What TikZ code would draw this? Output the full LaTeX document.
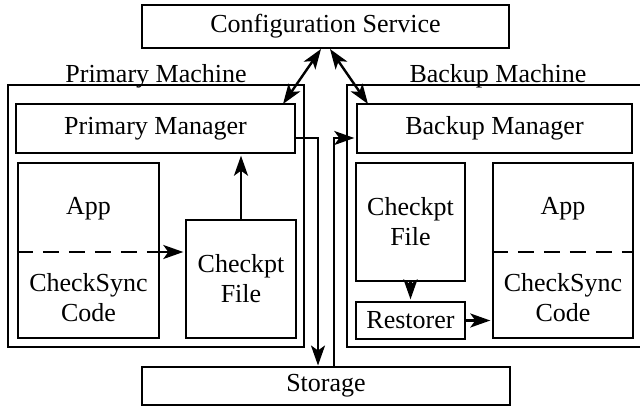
\documentclass[tikz,border=0pt]{standalone}
\usepackage{fontspec}
\setmainfont{Liberation Serif}
\usetikzlibrary{arrows.meta,calc}
\begin{document}
\begin{tikzpicture}[x=1pt,y=-1pt,
  every node/.style={font=\fontsize{26}{30}\selectfont, inner sep=0pt},
  box/.style={draw, line width=2.4pt, rectangle},
  conn/.style={line width=2.4pt, -{Stealth[length=20pt,width=14pt,inset=5pt]}, shorten >=1.5pt},
  dconn/.style={line width=2.4pt, {Stealth[length=20pt,width=14pt,inset=5pt]}-{Stealth[length=20pt,width=14pt,inset=5pt]}},
  txt/.style={align=center}]
\useasboundingbox (0,0) rectangle (640,407);
% outer boxes
\node[box, minimum width=367pt, minimum height=43pt] (cfg) at (325.5,26.5) {Configuration Service};
\node[box, minimum width=296pt, minimum height=262pt] (pm) at (156,216) {};
\node[box, minimum width=302pt, minimum height=262pt] (bm) at (498,216) {};
\node[anchor=base] (pmlab) at (156,82) {Primary Machine};
\node[anchor=base] (bmlab) at (498,82) {Backup Machine};
\node[box, minimum width=279pt, minimum height=49pt] (pmgr) at (155.5,128.5) {Primary Manager};
\node[box, minimum width=275pt, minimum height=49pt] (bmgr) at (494.5,128.5) {Backup Manager};
\node[box, minimum width=368pt, minimum height=38pt] (stor) at (326,386) {Storage};
% primary side
\node[box, minimum width=141pt, minimum height=175pt] (papp) at (88.5,250.5) {};
\node (papptxt) at (88.5,209) {App};
\node[txt] (pcode) at (88.5,298) {CheckSync\\Code};
\node[box, txt, minimum width=110pt, minimum height=118pt] (pck) at (241,279) {Checkpt\\File};
% backup side
\node[box, txt, minimum width=109pt, minimum height=118pt] (bck) at (410.5,222) {Checkpt\\File};
\node[box, minimum width=109pt, minimum height=37pt] (rest) at (410.5,320.5) {Restorer};
\node[box, minimum width=140pt, minimum height=175pt] (bapp) at (563,250.5) {};
\node (bapptxt) at (563,209) {App};
\node[txt] (bcode) at (563,298) {CheckSync\\Code};
% coordinates
\coordinate (ydash) at (0,252);
\coordinate (yst) at (0,138);
\coordinate (s1) at (318,367);
\coordinate (s2) at (334,367);
\coordinate (c1) at (321,49);
\coordinate (c2) at (330,49);
\coordinate (p1) at (283,104);
\coordinate (b1) at (368,104);
% connectors
\draw[line width=2.4pt, dash pattern=on 16pt off 10pt] (papp.west |- ydash) -- (papp.east |- ydash);
\draw[conn] (papp.east |- ydash) -- (pck.west |- ydash);
\draw[line width=2.4pt, dash pattern=on 16pt off 10pt] (bapp.west |- ydash) -- (bapp.east |- ydash);
\draw[conn] (pck.north) -- (pck.north |- pmgr.south);
\draw[conn] (bck.south) -- (rest.north);
\draw[conn] (rest.east) -- (rest.east -| bapp.west);
\draw[conn] (pmgr.east |- yst) -| (s1);
\draw[conn] (s2) |- (bmgr.west |- yst);
\draw[dconn] (c1) -- (p1);
\draw[dconn] (c2) -- (b1);
\end{tikzpicture}
\end{document}
